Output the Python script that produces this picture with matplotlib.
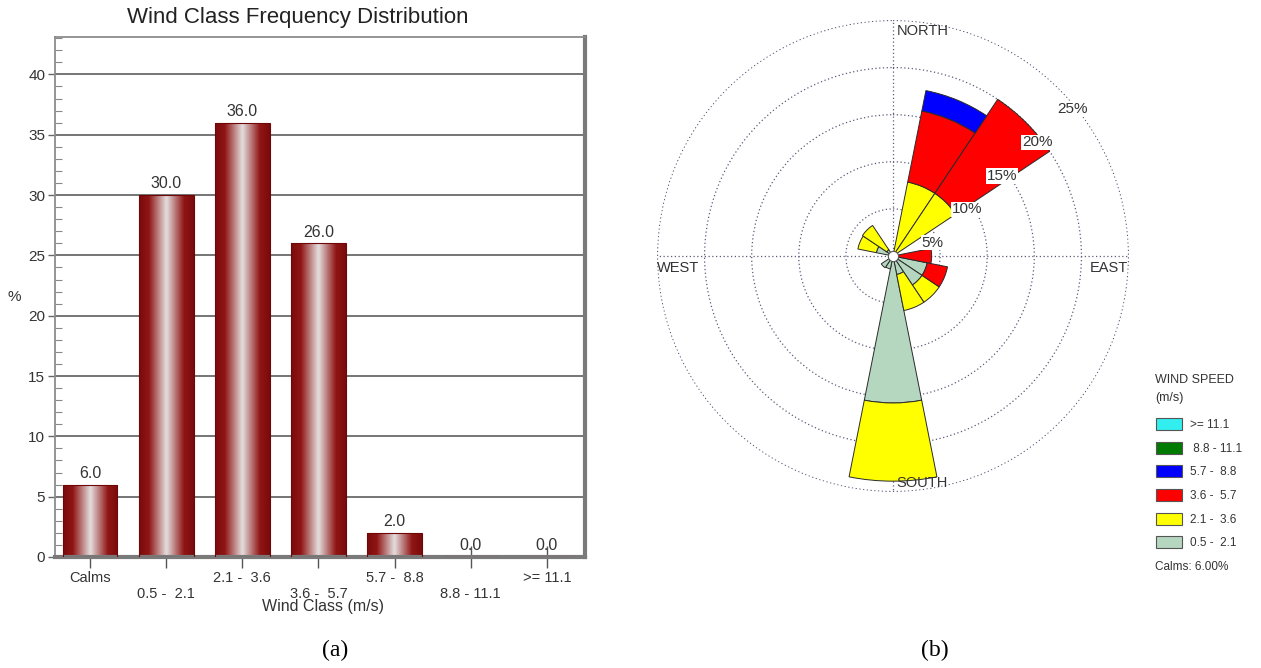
import numpy as np
import matplotlib.pyplot as plt
from matplotlib.colors import LinearSegmentedColormap
from matplotlib.patches import Patch

plt.rcParams['font.family'] = ['Liberation Sans', 'DejaVu Sans']

# ----------------------------
# Data: (a) wind class frequency
# ----------------------------
wind_classes = ['Calms', '0.5 -  2.1', '2.1 -  3.6', '3.6 -  5.7',
                '5.7 -  8.8', '8.8 - 11.1', '>= 11.1']
class_freq = [6.0, 30.0, 36.0, 26.0, 2.0, 0.0, 0.0]

# ----------------------------
# Data: (b) wind rose, % per direction and speed class
# ----------------------------
directions = ['N', 'NNE', 'NE', 'ENE', 'E', 'ESE', 'SE', 'SSE',
              'S', 'SSW', 'SW', 'WSW', 'W', 'WNW', 'NW', 'NNW']
freq_05_21 = [0, 0.3, 0.3, 0, 0.2, 3.7, 3.7, 2.0, 15.6, 1.4, 1.5, 0, 0, 1.8, 0.8, 0]
freq_21_36 = [0, 7.7, 7.7, 0, 0.2, 0, 2.2, 3.9, 8.3, 0, 0, 0, 0, 2.0, 3.1, 0]
freq_36_57 = [0, 7.7, 12.0, 0, 3.7, 2.2, 0, 0, 0, 0, 0, 0, 0, 0, 0, 0]
freq_57_88 = [0, 2.2, 0, 0, 0, 0, 0, 0, 0, 0, 0, 0, 0, 0, 0, 0]
freq_88_111 = [0] * 16
freq_111 = [0] * 16

speed_labels = ['0.5 -  2.1', '2.1 -  3.6', '3.6 -  5.7', '5.7 -  8.8',
                ' 8.8 - 11.1', '>= 11.1']
speed_colors = ['#b5d6bf', '#ffff00', '#ff0000', '#0000ff', '#007a00', '#33eeee']
ring_values = [5, 10, 15, 20, 25]
calm_text = 'Calms: 6.00%'

fig = plt.figure(figsize=(12.61, 6.68), dpi=100)
W, H = 1261, 668

# ----------------------------
# (a) bar chart
# ----------------------------
ax1 = fig.add_axes([55 / W, 1 - 557 / H, 530 / W, 520 / H])
x = np.arange(len(class_freq))
bars = ax1.bar(x, class_freq, width=0.72, color='none', edgecolor='#6e0808',
               linewidth=0.8, zorder=3)

cmap = LinearSegmentedColormap.from_list(
    'cyl', [(0, '#7a0b0b'), (0.18, '#901515'), (0.5, '#e4dede'),
            (0.82, '#901515'), (1, '#7a0b0b')])
grad = np.linspace(0, 1, 256).reshape(1, -1)
for b in bars:
    h = b.get_height()
    if h <= 0:
        continue
    im = ax1.imshow(grad, cmap=cmap, aspect='auto', zorder=2.5,
                    extent=[b.get_x(), b.get_x() + b.get_width(), 0, h])
    im.set_clip_path(b)

for xi, v in zip(x, class_freq):
    ax1.text(xi, v + 0.3, f'{v:.1f}', ha='center', va='bottom',
             fontsize=11.5, color='#333333', zorder=4)

ax1.set_xlim(-0.46, 6.5)
ax1.set_ylim(0, 43.1)
ax1.set_xticks(x)
ax1.set_xticklabels([lab if i % 2 == 0 else '\n' + lab
                     for i, lab in enumerate(wind_classes)])
ax1.set_yticks(np.arange(0, 41, 5))
ax1.set_yticks(np.arange(0, 44, 1), minor=True)
ax1.tick_params(axis='x', direction='inout', length=16, width=1,
                color='#555555', labelsize=10.5, labelcolor='#333333', pad=2)
ax1.tick_params(axis='y', which='major', direction='out', length=5, width=1,
                color='#666666', labelsize=11, labelcolor='#333333', pad=2)
ax1.tick_params(axis='y', which='minor', direction='in', length=5, width=0.8,
                color='#888888')
ax1.grid(axis='y', which='major', color='#5e5e5e', linewidth=1.2)
ax1.set_axisbelow(True)
for side in ['top', 'left']:
    ax1.spines[side].set_color('#8c8c8c')
    ax1.spines[side].set_linewidth(1.3)
for side in ['right', 'bottom']:
    ax1.spines[side].set_color('#7a7a7a')
    ax1.spines[side].set_linewidth(3)

fig.text(298 / W, 1 - 18 / H, 'Wind Class Frequency Distribution',
         ha='center', va='center', fontsize=16, color='#222222')
fig.text(14 / W, 1 - 297 / H, '%', ha='center', va='center',
         fontsize=11, color='#333333')
fig.text(323 / W, 1 - 607 / H, 'Wind Class (m/s)', ha='center', va='center',
         fontsize=11.5, color='#333333')

# ----------------------------
# (b) wind rose
# ----------------------------
ax2 = fig.add_axes([657 / W, 1 - 492 / H, 472 / W, 472 / H], projection='polar')
ax2.set_theta_zero_location('N')
ax2.set_theta_direction(-1)
theta = np.radians(np.arange(len(directions)) * 22.5)
bottom = np.zeros(len(directions))
classes = [freq_05_21, freq_21_36, freq_36_57, freq_57_88, freq_88_111, freq_111]
for vals, col in zip(classes, speed_colors):
    vals = np.array(vals, dtype=float)
    m = vals > 0
    if m.any():
        ax2.bar(theta[m], vals[m], width=np.radians(22.5), bottom=bottom[m],
                color=col, edgecolor='#2a2a2a', linewidth=0.7, zorder=3)
    bottom += vals

ax2.set_ylim(0, 25.05)
ax2.set_rgrids(ring_values, labels=[''] * len(ring_values))
ax2.set_thetagrids([0, 90, 180, 270], labels=[''] * 4)
ax2.grid(True, color='#5c5c7a', linewidth=0.9, linestyle=(0, (1, 2)))
ax2.spines['polar'].set_visible(False)
ax2.set_axisbelow(True)
ax2.scatter([0], [0], s=55, c='white', edgecolors='#555555',
            linewidths=0.8, zorder=5)

for v in ring_values:
    xx = 0.74 * v + 0.5
    yy = 0.71 * v - 2.14
    ax2.text(np.arctan2(xx, yy), np.hypot(xx, yy), f'{v}%', ha='center',
             va='center', fontsize=11, color='#333333', zorder=6,
             bbox=dict(facecolor='white', edgecolor='none', pad=0.6))

lab_kw = dict(transform=ax2.transAxes, fontsize=10.5, color='#333333', va='center')
ax2.text(0.508, 0.977, 'NORTH', ha='left', **lab_kw)
ax2.text(0.508, 0.019, 'SOUTH', ha='left', **lab_kw)
ax2.text(0.0, 0.475, 'WEST', ha='left', **lab_kw)
ax2.text(0.998, 0.475, 'EAST', ha='right', **lab_kw)

# legend
fig.text(1155 / W, 1 - 380 / H, 'WIND SPEED', ha='left', va='center',
         fontsize=9, color='#333333')
fig.text(1155 / W, 1 - 398 / H, '(m/s)', ha='left', va='center',
         fontsize=9, color='#333333')
handles = [Patch(facecolor=c, edgecolor='#555555', linewidth=0.8)
           for c in speed_colors[::-1]]
fig.legend(handles, speed_labels[::-1], loc='upper left',
           bbox_to_anchor=(1156 / W, 1 - 418 / H), frameon=False,
           fontsize=8.5, handlelength=2.2, handleheight=1.2,
           labelspacing=0.9, handletextpad=0.7, borderpad=0,
           borderaxespad=0, labelcolor='#333333')
fig.text(1155 / W, 1 - 567 / H, calm_text, ha='left', va='center',
         fontsize=8.5, color='#333333')

fig.text(335 / W, 1 - 650 / H, '(a)', ha='center', va='center',
         fontsize=17, family='Liberation Serif')
fig.text(935 / W, 1 - 650 / H, '(b)', ha='center', va='center',
         fontsize=17, family='Liberation Serif')

fig.savefig('out.png', dpi=100)
